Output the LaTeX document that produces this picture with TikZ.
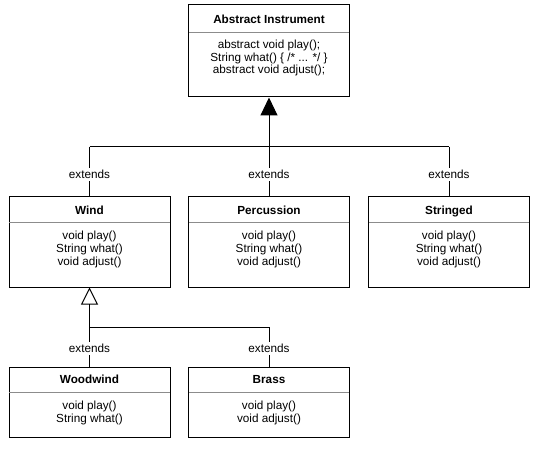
\documentclass[tikz,border=0pt]{standalone}
\usepackage{fontspec}
\setmainfont{Liberation Sans}
\usepackage{tikz}
\usetikzlibrary{arrows.meta}
\usetikzlibrary{shapes}

\tikzset{
  cls/.style={draw, line width=0.75pt, minimum width=120.75pt, inner sep=0pt},
  ttl/.style={inner sep=0.75pt, text height=1.6ex, text depth=0.4ex, font=\fontsize{8.8}{9.5}\selectfont\bfseries},
  mbr/.style={inner sep=0.75pt, align=center, font=\fontsize{8.8}{9.5}\selectfont},
  ext/.style={fill=white, inner sep=1.5pt, font=\fontsize{8.8}{9.5}\selectfont},
  sep/.style={color={rgb, 255:red, 140; green, 140; blue, 140 }, line width=0.6pt},
  lnk/.style={line width=0.75pt}
}

\begin{document}
\begin{tikzpicture}[x=0.75pt,y=0.75pt,yscale=-1,xscale=1]
\useasboundingbox (0,0) rectangle (539,449);

%Shape: Rectangle [Abstract Instrument]
\node [cls, minimum height=69pt] (abs) at (269,51) {};
\draw [sep] (189,32.5) -- (349,32.5) ;
% Text Node
\node [ttl] (absT) at (269,19) {Abstract Instrument};
% Text Node
\node [mbr] (absM) at (269,58) {abstract void play();\\String what() \{ /* ... */ \}\\abstract void adjust();};

%Shape: Rectangle [Wind]
\node [cls, minimum height=67.5pt] (wind) at (89.5,242) {};
\draw [sep] (9,222) -- (170,222) ;
\node [ttl] (windT) at (89.5,210) {Wind};
\node [mbr] (windM) at (89.5,249.5) {void play()\\String what()\\void adjust()};

%Shape: Rectangle [Percussion]
\node [cls, minimum height=67.5pt] (perc) at (269,242) {};
\draw [sep] (189,222) -- (349,222) ;
\node [ttl] (percT) at (269,210) {Percussion};
\node [mbr] (percM) at (269,249.5) {void play()\\String what()\\void adjust()};

%Shape: Rectangle [Stringed]
\node [cls, minimum height=67.5pt] (str) at (449,242) {};
\draw [sep] (369,222) -- (529,222) ;
\node [ttl] (strT) at (449,210) {Stringed};
\node [mbr] (strM) at (449,249.5) {void play()\\String what()\\void adjust()};

%Shape: Rectangle [Woodwind]
\node [cls, minimum height=52.5pt] (wood) at (89.5,402) {};
\draw [sep] (9,392) -- (170,392) ;
\node [ttl] (woodT) at (89.5,379.5) {Woodwind};
\node [mbr] (woodM) at (89.5,413) {void play()\\String what()};

%Shape: Rectangle [Brass]
\node [cls, minimum height=52.5pt] (brass) at (269,402) {};
\draw [sep] (189,392) -- (349,392) ;
\node [ttl] (brassT) at (269,379.5) {Brass};
\node [mbr] (brassM) at (269,413) {void play()\\void adjust()};

%Straight Lines [extends Instrument]
\coordinate (j1) at (269,147);
\coordinate (j1w) at (89.5,147);
\coordinate (j1s) at (449,147);
\draw [lnk, -{Triangle[width=12.75pt,length=13.5pt]}] (j1) -- (abs.south) ;
\draw [lnk] (j1w) -- (j1s) ;
\draw [lnk] (j1w) -- (wind.north) node [ext, pos=0.55] (extW) {extends};
\draw [lnk] (j1) -- (perc.north) node [ext, pos=0.55] (extP) {extends};
\draw [lnk] (j1s) -- (str.north) node [ext, pos=0.55] (extS) {extends};

%Straight Lines [extends Wind]
\coordinate (j2) at (89.5,327);
\coordinate (j2b) at (269,327);
\draw [lnk, -{Triangle[open,width=12.75pt,length=12.75pt]}] (j2) -- (wind.south) ;
\draw [lnk] (j2) -- (j2b) ;
\draw [lnk] (j2) -- (wood.north) node [ext, pos=0.55] (extWw) {extends};
\draw [lnk] (j2b) -- (brass.north) node [ext, pos=0.55] (extB) {extends};

\end{tikzpicture}
\end{document}
